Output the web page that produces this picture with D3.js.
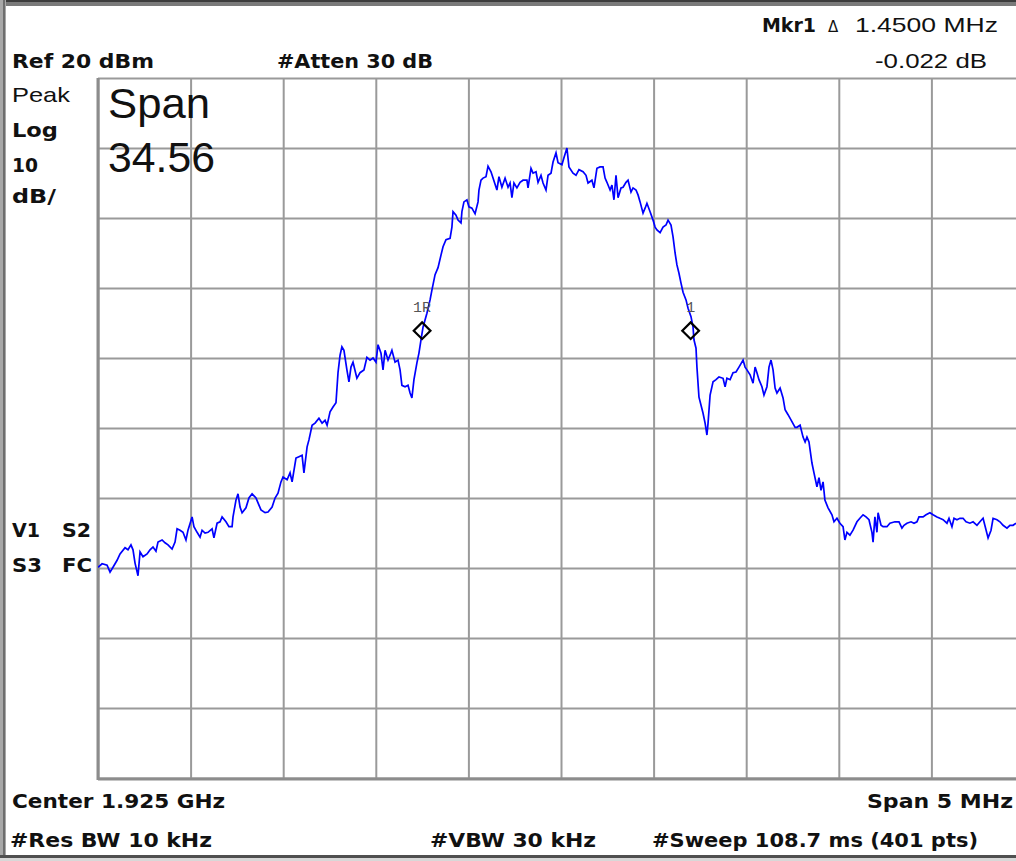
<!DOCTYPE html>
<html>
<head>
<meta charset="utf-8">
<script src="https://cdn.jsdelivr.net/npm/d3@7"></script>
<style>
  body { margin: 0; background: #fff; }
  svg { display: block; }
  .bold { font-family: "DejaVu Sans", sans-serif; font-weight: bold; font-size: 20px; fill: #111; }
  .reg { font-family: "Liberation Sans", Arial, sans-serif; font-size: 21px; fill: #111; }
  .grid line { stroke: #9a9a9a; stroke-width: 2; }
</style>
</head>
<body>
<div class="analyzer"></div>
<script>
var width = 1016;
var height = 861;

// sweep settings
var centerGHz = 1.925;
var spanMHz = 5;
var refLevel = 20;
var dbPerDiv = 10;
var divisions = 10;

// trace, frequency as offset from center (MHz) and level (dBm)
var freqOffsetMHz = [
  -2.500, -2.478, -2.451, -2.435, -2.419, -2.397, -2.381, -2.354, -2.338, -2.322,
  -2.311, -2.300, -2.284, -2.273, -2.257, -2.235, -2.219, -2.203, -2.187, -2.176,
  -2.154, -2.138, -2.122, -2.100, -2.084, -2.073, -2.057, -2.041, -2.025, -2.014,
  -1.992, -1.982, -1.965, -1.949, -1.938, -1.922, -1.906, -1.884, -1.874, -1.857,
  -1.841, -1.830, -1.809, -1.793, -1.776, -1.771, -1.755, -1.744, -1.733, -1.722,
  -1.701, -1.685, -1.668, -1.647, -1.636, -1.620, -1.598, -1.582, -1.560, -1.544,
  -1.528, -1.512, -1.501, -1.479, -1.463, -1.452, -1.431, -1.415, -1.398, -1.388,
  -1.371, -1.361, -1.344, -1.328, -1.307, -1.290, -1.274, -1.263, -1.247, -1.231,
  -1.215, -1.204, -1.193, -1.183, -1.172, -1.156, -1.145, -1.134, -1.123, -1.102,
  -1.085, -1.064, -1.048, -1.031, -1.015, -0.999, -0.988, -0.972, -0.961, -0.950,
  -0.934, -0.923, -0.913, -0.896, -0.880, -0.869, -0.859, -0.842, -0.826, -0.815,
  -0.805, -0.794, -0.778, -0.767, -0.756, -0.745, -0.724, -0.707, -0.697, -0.680,
  -0.664, -0.648, -0.637, -0.621, -0.599, -0.589, -0.583, -0.567, -0.556, -0.540,
  -0.535, -0.524, -0.508, -0.497, -0.481, -0.464, -0.448, -0.443, -0.432, -0.421,
  -0.405, -0.394, -0.378, -0.367, -0.346, -0.335, -0.319, -0.302, -0.286, -0.275,
  -0.265, -0.254, -0.238, -0.221, -0.205, -0.184, -0.178, -0.162, -0.151, -0.135,
  -0.124, -0.108, -0.097, -0.081, -0.070, -0.054, -0.043, -0.027, -0.016, 0.005,
  0.016, 0.032, 0.043, 0.065, 0.081, 0.097, 0.119, 0.135, 0.146, 0.167,
  0.178, 0.194, 0.211, 0.227, 0.238, 0.248, 0.265, 0.275, 0.286, 0.297,
  0.308, 0.324, 0.335, 0.351, 0.362, 0.378, 0.389, 0.405, 0.416, 0.427,
  0.443, 0.454, 0.464, 0.481, 0.497, 0.508, 0.518, 0.535, 0.551, 0.567,
  0.578, 0.594, 0.605, 0.616, 0.626, 0.637, 0.648, 0.659, 0.675, 0.686,
  0.702, 0.713, 0.718, 0.729, 0.734, 0.745, 0.767, 0.778, 0.788, 0.794,
  0.805, 0.821, 0.837, 0.853, 0.875, 0.886, 0.896, 0.913, 0.929, 0.945,
  0.961, 0.983, 0.994, 1.004, 1.021, 1.037, 1.048, 1.058, 1.069, 1.085,
  1.096, 1.112, 1.123, 1.134, 1.145, 1.156, 1.166, 1.183, 1.199, 1.210,
  1.226, 1.247, 1.264, 1.274, 1.291, 1.307, 1.318, 1.328, 1.339, 1.355,
  1.366, 1.382, 1.393, 1.404, 1.415, 1.425, 1.442, 1.463, 1.474, 1.490,
  1.506, 1.523, 1.533, 1.544, 1.560, 1.577, 1.598, 1.614, 1.631, 1.647,
  1.663, 1.679, 1.685, 1.695, 1.706, 1.712, 1.728, 1.739, 1.760, 1.776,
  1.803, 1.825, 1.841, 1.852, 1.868, 1.890, 1.906, 1.922, 1.933, 1.955,
  1.971, 1.992, 2.009, 2.030, 2.046, 2.063, 2.084, 2.095, 2.111, 2.122,
  2.138, 2.154, 2.171, 2.187, 2.208, 2.225, 2.246, 2.262, 2.279, 2.306,
  2.322, 2.333, 2.354, 2.370, 2.387, 2.408, 2.424, 2.441, 2.457
];
var levelDbm = [
  -49.9, -49.4, -49.6, -50.6, -49.9, -48.9, -48.0, -47.1, -47.4, -46.7,
  -47.4, -49.3, -51.1, -47.7, -48.4, -48.0, -47.4, -47.0, -47.6, -46.3,
  -46.0, -46.4, -46.7, -47.3, -46.3, -44.4, -44.6, -44.9, -46.0, -44.6,
  -42.7, -44.1, -44.9, -45.6, -44.6, -45.0, -44.9, -44.4, -45.7, -43.6,
  -43.4, -42.7, -43.4, -44.1, -44.1, -42.7, -40.3, -39.4, -41.3, -42.1,
  -41.4, -40.0, -39.4, -40.0, -40.7, -41.7, -42.1, -42.0, -41.3, -40.0,
  -39.3, -37.7, -37.0, -37.4, -36.4, -37.7, -34.3, -34.1, -33.9, -36.4,
  -32.7, -31.7, -29.6, -29.3, -28.6, -29.3, -28.9, -29.6, -27.7, -27.0,
  -26.4, -22.1, -19.6, -18.4, -18.9, -21.7, -23.4, -21.3, -20.6, -22.9,
  -22.1, -21.7, -19.9, -20.3, -20.0, -20.6, -18.1, -19.3, -21.7, -18.9,
  -20.3, -19.6, -18.9, -20.6, -20.3, -21.7, -23.9, -24.1, -23.9, -25.0,
  -25.7, -23.1, -20.7, -19.3, -17.4, -15.6, -13.6, -11.7, -10.3, -8.1,
  -7.1, -5.3, -4.1, -3.1, -2.9, -1.3, 0.9, 0.4, -0.3, -0.7,
  0.9, 2.3, 2.6, 1.6, 1.4, 0.6, 2.3, 4.0, 5.4, 5.7,
  5.9, 7.4, 6.6, 5.7, 4.0, 5.9, 4.4, 5.7, 4.4, 5.0,
  2.9, 5.0, 4.3, 5.1, 5.4, 5.4, 4.3, 7.1, 6.4, 6.6,
  5.1, 6.1, 5.0, 4.0, 6.1, 6.4, 8.0, 9.3, 7.9, 7.6,
  8.6, 10.0, 7.3, 6.4, 6.1, 6.9, 6.6, 6.1, 5.0, 5.4,
  4.3, 7.1, 7.3, 7.3, 5.7, 5.1, 4.0, 4.7, 2.6, 6.1,
  2.9, 4.3, 4.4, 5.1, 5.4, 3.7, 4.3, 4.0, 3.3, 2.3,
  0.7, 1.4, 2.1, 0.9, -0.3, -1.3, -1.7, -2.1, -1.3, -1.0,
  -0.3, -1.0, -2.7, -5.0, -6.7, -7.9, -9.3, -10.6, -11.7, -12.9,
  -14.1, -15.6, -17.4, -18.6, -21.3, -25.6, -27.9, -29.3, -31.0, -29.3,
  -25.3, -23.4, -23.1, -22.7, -22.9, -24.1, -22.9, -23.1, -22.1, -22.0,
  -21.3, -20.3, -21.3, -21.7, -22.4, -23.6, -21.3, -22.1, -23.1, -24.1,
  -25.3, -24.1, -21.3, -20.3, -21.7, -24.3, -25.0, -24.3, -25.7, -27.4,
  -28.1, -29.1, -29.9, -29.9, -29.6, -31.3, -32.0, -31.3, -32.0, -35.0,
  -36.4, -38.4, -37.1, -38.9, -37.7, -40.3, -41.4, -42.4, -43.4, -42.9,
  -43.6, -44.1, -46.0, -44.9, -45.3, -44.6, -43.4, -42.9, -42.4, -42.7,
  -43.1, -44.9, -46.3, -42.7, -44.9, -42.1, -43.9, -44.1, -44.1, -43.6,
  -43.4, -43.4, -44.3, -43.9, -43.6, -43.4, -43.6, -43.4, -42.7, -42.7,
  -42.4, -42.1, -42.4, -42.7, -42.9, -43.1, -43.6, -42.9, -44.1, -42.9,
  -43.1, -42.9, -42.9, -43.4, -43.6, -43.4, -43.9, -43.4, -42.9, -45.7,
  -44.6, -42.9, -43.1, -43.4, -43.9, -44.3, -43.9, -43.9, -43.6
];

// markers (1R reference, 1 delta)
var markerNames = ["1R", "1"];
var markerFreqMHz = [-0.750, 0.700];
var markerLevel = [-16.1, -16.1];

var svg = d3.select(".analyzer").append("svg").attr("width", width).attr("height", height);

// graticule area (right side runs past the window edge)
var plot = { left: 98, top: 78, right: 1024, bottom: 778 };

var x = d3.scaleLinear().domain([-spanMHz / 2, spanMHz / 2]).range([plot.left, plot.right]);
var y = d3.scaleLinear().domain([refLevel - dbPerDiv * divisions, refLevel]).range([plot.bottom, plot.top]);

function init() {
  drawFrame();
  drawGrid();
  drawTrace();
  drawMarkers();
  drawAnnotations();
}

/* window border around the screen capture */
function drawFrame() {
  svg.append("rect").attr("x", 0).attr("y", 0).attr("width", width).attr("height", 6).attr("fill", "#7a7a7a");
  svg.append("rect").attr("x", 0).attr("y", 0).attr("width", width).attr("height", 2).attr("fill", "#3c3c3c");
  svg.append("rect").attr("x", 0).attr("y", 0).attr("width", 6).attr("height", height).attr("fill", "#a8a8a8");
  svg.append("rect").attr("x", 3).attr("y", 0).attr("width", 2).attr("height", height).attr("fill", "#6e6e6e");
  svg.append("rect").attr("x", 0).attr("y", 855).attr("width", width).attr("height", 3).attr("fill", "#505050");
  svg.append("rect").attr("x", 0).attr("y", 858).attr("width", width).attr("height", 3).attr("fill", "#d8d8d8");
}

function drawGrid() {
  var xTicks = d3.range(0, divisions + 1).map(function(i) { return -spanMHz / 2 + i * spanMHz / divisions; });
  var yTicks = d3.range(0, divisions + 1).map(function(i) { return refLevel - i * dbPerDiv; });

  svg.append("g").attr("class", "grid")
    .attr("transform", "translate(0," + plot.bottom + ")")
    .call(d3.axisBottom(x).tickValues(xTicks).tickSize(-(plot.bottom - plot.top)).tickFormat(""))
    .call(function(g) { g.select(".domain").remove(); });

  svg.append("g").attr("class", "grid")
    .attr("transform", "translate(" + plot.left + ",0)")
    .call(d3.axisLeft(y).tickValues(yTicks).tickSize(-(plot.right - plot.left)).tickFormat(""))
    .call(function(g) { g.select(".domain").remove(); });

  // heavier left and bottom edges
  svg.append("line").attr("x1", plot.left).attr("x2", plot.left).attr("y1", plot.top).attr("y2", plot.bottom + 2)
    .attr("stroke", "#8c8c8c").attr("stroke-width", 3);
  svg.append("line").attr("x1", plot.left).attr("x2", width).attr("y1", plot.bottom + 1).attr("y2", plot.bottom + 1)
    .attr("stroke", "#8c8c8c").attr("stroke-width", 3);
}

function drawTrace() {
  svg.append("clipPath").attr("id", "plot-clip").append("rect")
    .attr("x", plot.left).attr("y", plot.top).attr("width", plot.right - plot.left).attr("height", plot.bottom - plot.top);

  var line = d3.line()
    .x(function(d, i) { return x(freqOffsetMHz[i]); })
    .y(function(d) { return y(d); });

  svg.append("path")
    .datum(levelDbm)
    .attr("clip-path", "url(#plot-clip)")
    .attr("fill", "none")
    .attr("stroke", "#0000ff")
    .attr("stroke-width", 1.7)
    .attr("stroke-linejoin", "miter")
    .attr("d", line);
}

function drawMarkers() {
  var g = svg.append("g");
  markerNames.forEach(function(name, i) {
    var mx = x(markerFreqMHz[i]);
    var my = y(markerLevel[i]);
    g.append("path")
      .attr("d", d3.symbol().type(d3.symbolSquare).size(140)())
      .attr("transform", "translate(" + mx + "," + my + ") rotate(45)")
      .attr("fill", "none").attr("stroke", "#000").attr("stroke-width", 2.2);
    g.append("text")
      .attr("x", mx).attr("y", my - 19)
      .attr("text-anchor", "middle")
      .attr("font-family", "Liberation Mono, monospace")
      .attr("font-size", 15).attr("fill", "#555")
      .text(name);
  });
}

function addText(cls, txt, tx, ty, len, anchor) {
  var t = svg.append("text").attr("class", cls).attr("x", tx).attr("y", ty).text(txt);
  if (len) t.attr("textLength", len).attr("lengthAdjust", "spacingAndGlyphs");
  if (anchor) t.attr("text-anchor", anchor);
  return t;
}

function drawAnnotations() {
  var deltaMHz = markerFreqMHz[1] - markerFreqMHz[0];

  // top right readout
  addText("bold", "Mkr1", 762, 32, 54);
  svg.append("text").attr("x", 828).attr("y", 32)
    .attr("font-family", "DejaVu Sans, sans-serif").attr("font-size", 15).attr("fill", "#111").text("\u0394");
  addText("reg", deltaMHz.toFixed(4) + " MHz", 855, 32, 143);
  addText("reg", "-0.022 dB", 875, 68, 112);

  addText("bold", "Ref " + refLevel + " dBm", 12, 68, 142);
  addText("bold", "#Atten 30 dB", 277, 68, 156);

  // left column
  addText("reg", "Peak", 12, 102, 58);
  addText("bold", "Log", 12, 137, 46);
  addText("bold", String(dbPerDiv), 12, 172, 26);
  addText("bold", "dB/", 12, 203, 44);
  addText("bold", "V1", 12, 537, 28);
  addText("bold", "S2", 62, 537, 29);
  addText("bold", "S3", 12, 572, 30);
  addText("bold", "FC", 62, 572, 30);

  // big overlay
  svg.append("text").attr("x", 108).attr("y", 118)
    .attr("font-family", "Liberation Sans, Arial, sans-serif").attr("font-size", 42).attr("fill", "#111")
    .attr("textLength", 102).attr("lengthAdjust", "spacingAndGlyphs").text("Span");
  svg.append("text").attr("x", 108).attr("y", 172)
    .attr("font-family", "Liberation Sans, Arial, sans-serif").attr("font-size", 42).attr("fill", "#111")
    .attr("textLength", 107).attr("lengthAdjust", "spacingAndGlyphs").text("34.56");

  // bottom settings
  addText("bold", "Center " + centerGHz.toFixed(3) + " GHz", 12, 808, 213);
  addText("bold", "Span " + spanMHz + " MHz", 1013, 808, 146, "end");
  addText("bold", "#Res BW 10 kHz", 10, 847, 202);
  addText("bold", "#VBW 30 kHz", 430, 847, 166);
  addText("bold", "#Sweep 108.7 ms (401 pts)", 652, 847, 326);
}

init();
</script>
</body>
</html>
